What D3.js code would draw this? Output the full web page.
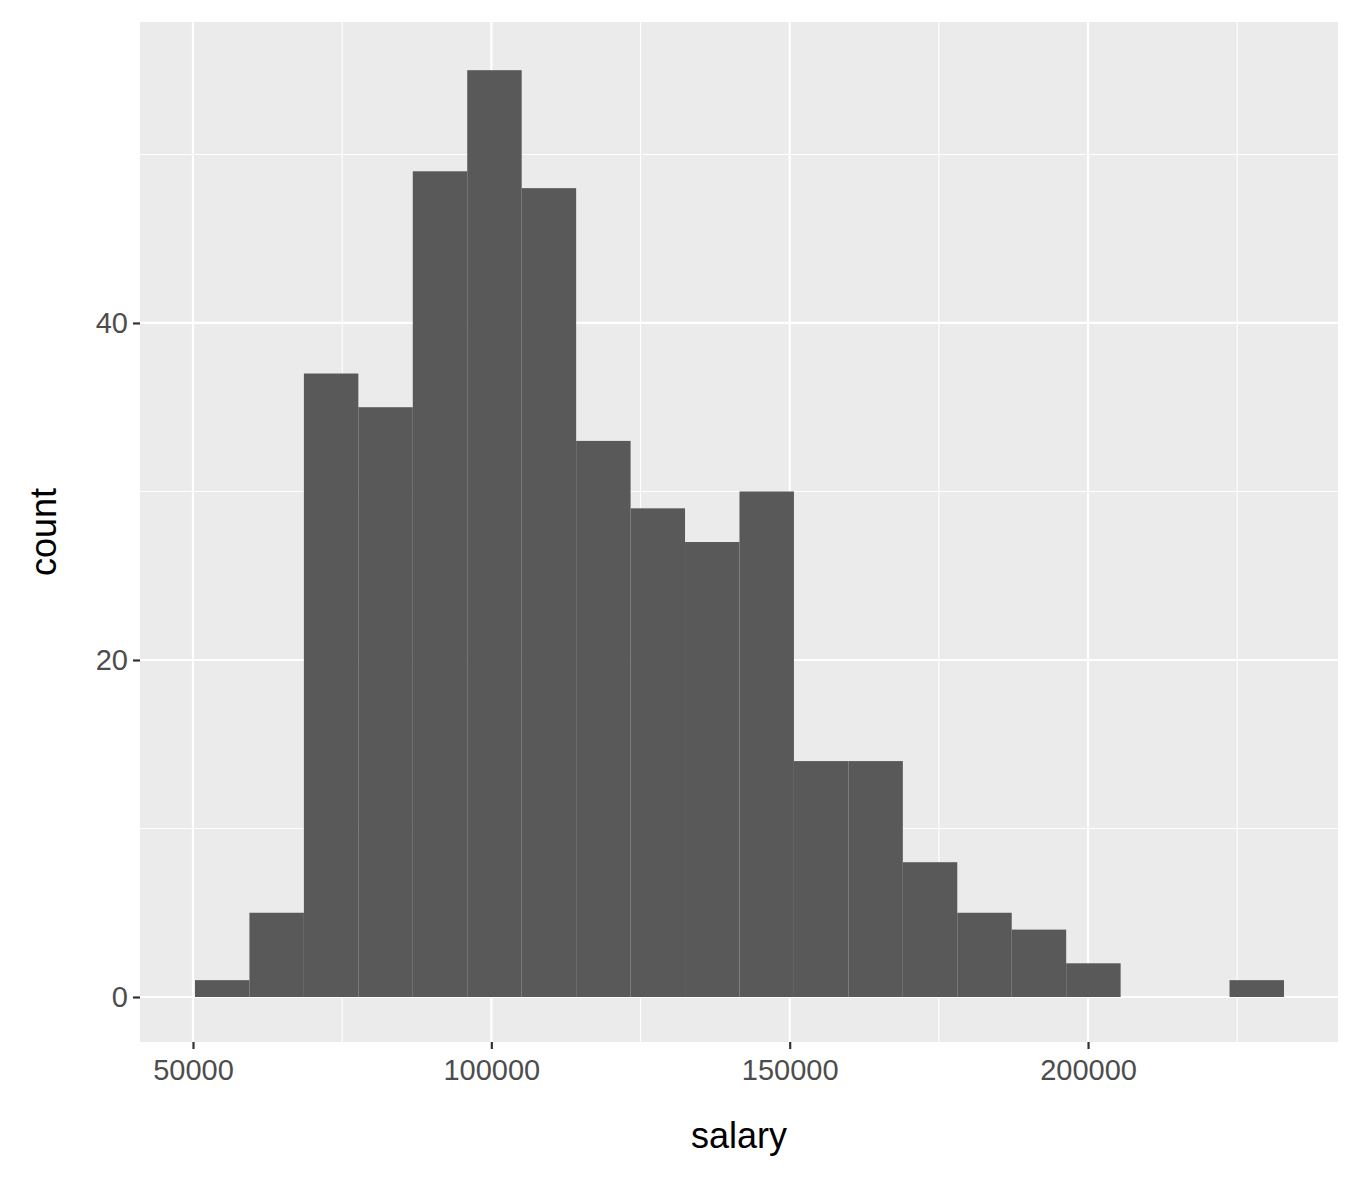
<!DOCTYPE html>
<html>
<head>
<meta charset="utf-8">
<script src="https://cdn.jsdelivr.net/npm/d3@7"></script>
<style>
  body { margin: 0; background: #fff; }
  text { font-family: "Liberation Sans", Arial, sans-serif; }
</style>
</head>
<body>
<svg id="chart" width="1362" height="1181"></svg>
<script>
// histogram bins (salary)
const binStart = 50335;
const binWidth = 9125;
const counts = [1, 5, 37, 35, 49, 55, 48, 33, 29, 27, 30, 14, 14, 8, 5, 4, 2, 0, 0, 1];
const xTicks = [50000, 100000, 150000, 200000];
const xMinor = [75000, 125000, 175000, 225000];
const yTicks = [0, 20, 40];
const yMinor = [10, 30, 50];

const svg = d3.select("#chart");
const pLeft = 140, pRight = 1338, pTop = 22, pBottom = 1042;

const x = d3.scaleLinear().domain([41118, 241890]).range([pLeft, pRight]);
const y = d3.scaleLinear().domain([-2.67, 57.86]).range([pBottom, pTop]);

svg.append("rect")
  .attr("x", pLeft).attr("y", pTop)
  .attr("width", pRight - pLeft).attr("height", pBottom - pTop)
  .attr("fill", "#ebebeb");

const grid = svg.append("g").attr("stroke", "#fff").attr("fill", "none");
xMinor.forEach(v => grid.append("line").attr("x1", x(v)).attr("x2", x(v)).attr("y1", pTop).attr("y2", pBottom).attr("stroke-width", 1.1));
yMinor.forEach(v => grid.append("line").attr("y1", y(v)).attr("y2", y(v)).attr("x1", pLeft).attr("x2", pRight).attr("stroke-width", 1.1));
xTicks.forEach(v => grid.append("line").attr("x1", x(v)).attr("x2", x(v)).attr("y1", pTop).attr("y2", pBottom).attr("stroke-width", 2.2));
yTicks.forEach(v => grid.append("line").attr("y1", y(v)).attr("y2", y(v)).attr("x1", pLeft).attr("x2", pRight).attr("stroke-width", 2.2));

svg.append("g").selectAll("rect")
  .data(counts)
  .enter()
  .append("rect")
  .attr("x", (d, i) => x(binStart + i * binWidth))
  .attr("width", (d, i) => x(binStart + (i + 1) * binWidth) - x(binStart + i * binWidth))
  .attr("y", d => y(d))
  .attr("height", d => y(0) - y(d))
  .attr("fill", "#595959");

// axes
const xAxis = svg.append("g")
  .attr("transform", `translate(0,${pBottom})`)
  .call(d3.axisBottom(x).tickValues(xTicks).tickFormat(d3.format("d")).tickSize(7).tickPadding(5));
const yAxis = svg.append("g")
  .attr("transform", `translate(${pLeft},0)`)
  .call(d3.axisLeft(y).tickValues(yTicks).tickSize(7).tickPadding(5));

[xAxis, yAxis].forEach(a => {
  a.select(".domain").remove();
  a.selectAll("line").attr("stroke", "#333").attr("stroke-width", 2.2);
  a.selectAll("text").attr("fill", "#4d4d4d").style("font-size", "29px")
    .style("font-family", "'Liberation Sans', Arial, sans-serif");
});
xAxis.selectAll("text").attr("dy", "0.9em");

svg.append("text")
  .attr("x", (pLeft + pRight) / 2).attr("y", 1148)
  .attr("text-anchor", "middle")
  .style("font-size", "36px")
  .text("salary");

svg.append("text")
  .attr("transform", `translate(56,${(pTop + pBottom) / 2}) rotate(-90)`)
  .attr("text-anchor", "middle")
  .style("font-size", "36px")
  .text("count");
</script>
</body>
</html>
